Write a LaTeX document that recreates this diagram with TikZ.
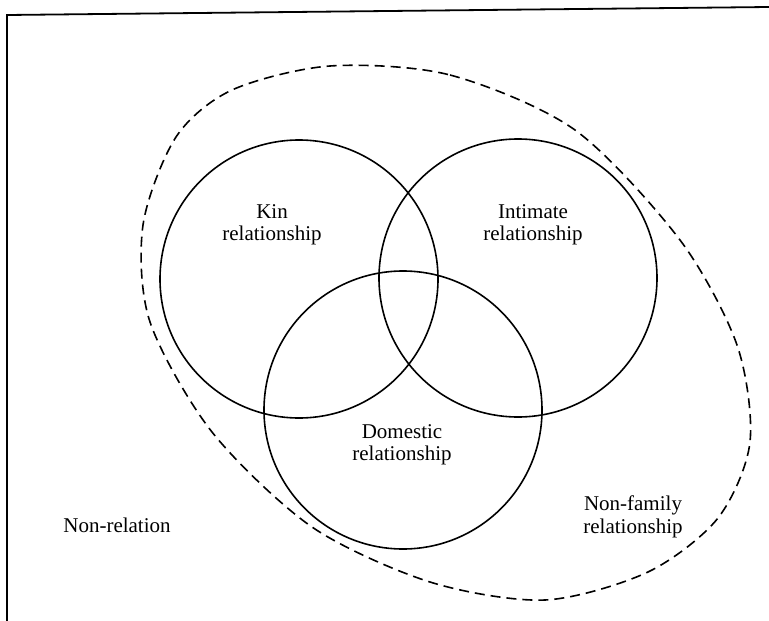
\documentclass[tikz,border=0pt]{standalone}
\usepackage{fontspec}
\setmainfont{Liberation Serif}
\usetikzlibrary{positioning}

\begin{document}
\begin{tikzpicture}[x=1pt,y=-1pt,
  every node/.style={circle},
  Setnode/.style={draw,line width=1.6pt,minimum size=278pt,inner sep=0pt},
  Textnode/.style={rectangle,align=center,inner sep=0pt,font=\fontsize{21}{22.5}\selectfont},
  Outline/.style={line width=1.6pt,dash pattern=on 10pt off 6pt}
]
\useasboundingbox (0,0) rectangle (769,621);

% the frame
\coordinate (F1) at (7,621);
\coordinate (F2) at (7,15);
\coordinate (F3) at (769,7);
\draw[line width=1.8pt] (F1) -- (F2) -- (F3);

% the family boundary
\draw[Outline] plot[smooth cycle] coordinates {
  (330,66) (450,75) (575,130) (680,240) (737,345) (750,442) (718,518)
  (648,572) (545,600) (430,582) (312,527) (212,432) (150,322) (143,225)
  (176,137) (232,90)};

% the three sets
\node[Setnode] (Kin) at (299,279) {};
\node[Setnode] (Int) at (518,278) {};
\node[Setnode] (Dom) at (403,410) {};

% labels
\node[Textnode] (Lkin) at (272,225) {Kin\\relationship};
\node[Textnode] (Lint) at (533,225) {Intimate\\relationship};
\node[Textnode] (Ldom) at (402,445) {Domestic\\relationship};
\node[Textnode] (Lnf) at (633,517) {Non-family\\relationship};
\node[Textnode] (Lnr) at (117,525) {Non-relation};

\end{tikzpicture}
\end{document}
